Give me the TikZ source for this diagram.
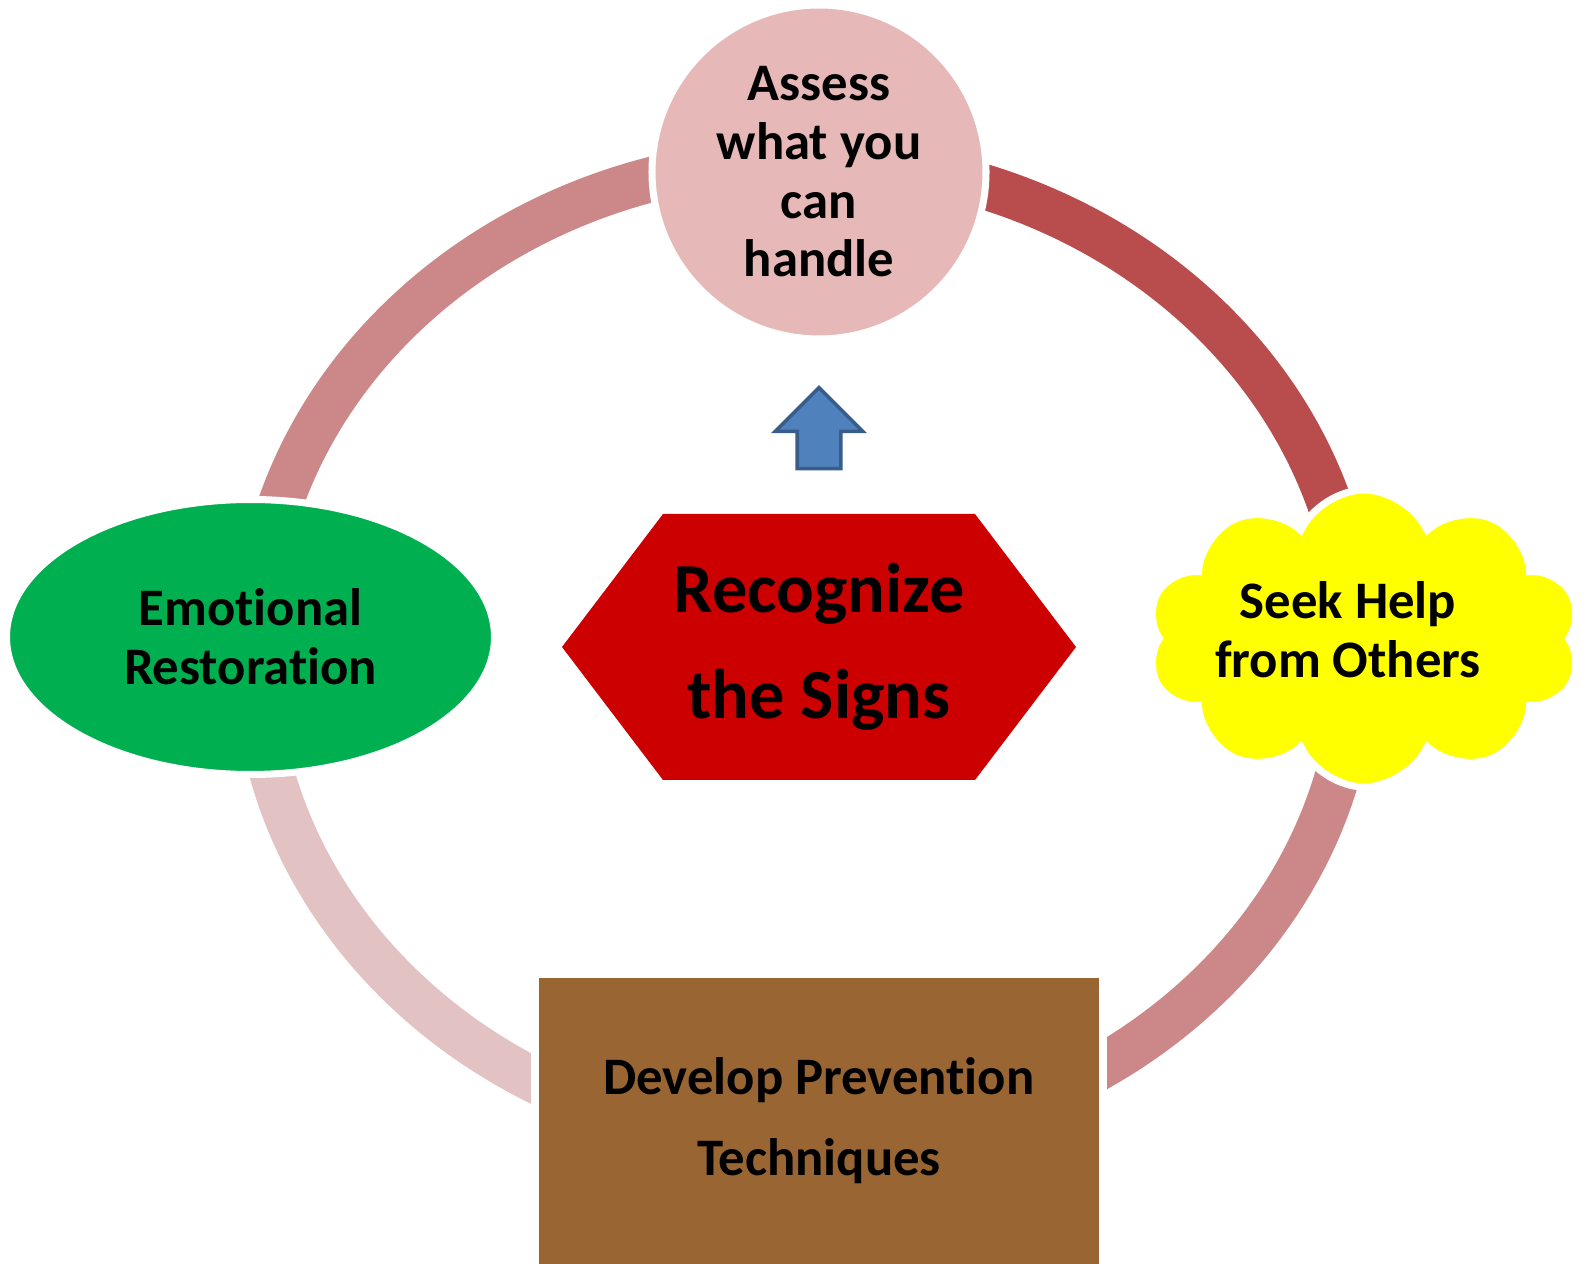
\documentclass[tikz,border=0pt]{standalone}
\usepackage{fontspec}
\setmainfont[Ligatures=NoCommon]{Carlito}
\usetikzlibrary{shapes, positioning}

\definecolor{ringmid}{HTML}{CC8888}
\definecolor{ringdark}{HTML}{B94D4D}
\definecolor{ringpale}{HTML}{E2C2C3}
\definecolor{assesspink}{HTML}{E6B8B7}
\definecolor{signred}{HTML}{CC0000}
\definecolor{emogreen}{HTML}{00B050}
\definecolor{seekyellow}{HTML}{FFFF00}
\definecolor{techbrown}{HTML}{996633}
\definecolor{arrowblue}{HTML}{4F81BD}
\definecolor{arrowedge}{HTML}{385D8A}

\tikzstyle{every node}=[font=\fontsize{15}{16.7}\selectfont\bfseries, align=center]
\tikzstyle{stage}=[draw=white, line width=2pt, inner sep=0pt]
\tikzstyle{ring}=[line width=0.45cm]

\begin{document}
\begin{tikzpicture}[>=latex]
  \useasboundingbox (0,0) rectangle (15.87,12.64);
  % ring behind the stages
  \coordinate (ring) at (8.05,6.12);
  \draw[ring, ringmid] (ring) ++(178:5.5 and 4.92) arc[start angle=178, end angle=90, x radius=5.5cm, y radius=4.92cm];
  \draw[ring, ringdark] (ring) ++(90:5.5 and 4.92) arc[start angle=90, end angle=0, x radius=5.5cm, y radius=4.92cm];
  \draw[ring, ringmid] (ring) ++(0:5.5 and 4.92) arc[start angle=0, end angle=-90, x radius=5.5cm, y radius=4.92cm];
  \draw[ring, ringpale] (ring) ++(-90:5.5 and 4.92) arc[start angle=-90, end angle=-178, x radius=5.5cm, y radius=4.92cm];
  % hexagon in the middle
  \coordinate (mid) at (8.19,6.17);
  \fill[signred] (mid) ++(-2.57,0) -- ++(1.01,1.33) -- ++(3.12,0) -- ++(1.01,-1.33) -- ++(-1.01,-1.33) -- ++(-3.12,0) -- cycle;
  \node[font=\fontsize{20}{30}\selectfont\bfseries] (signs) at (mid) {Recognize\\the Signs};
  \node[single arrow, shape border rotate=90, draw=arrowedge, fill=arrowblue, line width=1pt, minimum height=0.81cm, minimum width=0.86cm, single arrow head extend=0.22cm, inner sep=0.2cm, above of=signs, node distance=2.08cm] (up) {};
  % the four stages
  \node[stage, circle, fill=assesspink, minimum size=3.34cm, above of=signs, node distance=4.75cm] (assess) {Assess\\what you\\can\\handle};
  \node[stage, ellipse, fill=emogreen, minimum width=4.88cm, minimum height=2.75cm, left of=signs, node distance=5.685cm, yshift=1mm] (emo) {Emotional\\Restoration};
  \node[stage, cloud, cloud puffs=10, cloud puff arc=130, aspect=1.46, fill=seekyellow, minimum width=4.34cm, minimum height=2.97cm, right of=signs, node distance=5.45cm, yshift=0.85mm] (seek) {};
  \node[at={([xshift=-1.6mm, yshift=0.9mm]seek.center)}] (seektext) {Seek Help\\from Others};
  \node[stage, rectangle, fill=techbrown, minimum width=5.68cm, minimum height=2.94cm, below of=signs, node distance=4.74cm, font=\fontsize{15}{23}\selectfont\bfseries] (tech) {Develop Prevention\\Techniques};
\end{tikzpicture}
\end{document}
